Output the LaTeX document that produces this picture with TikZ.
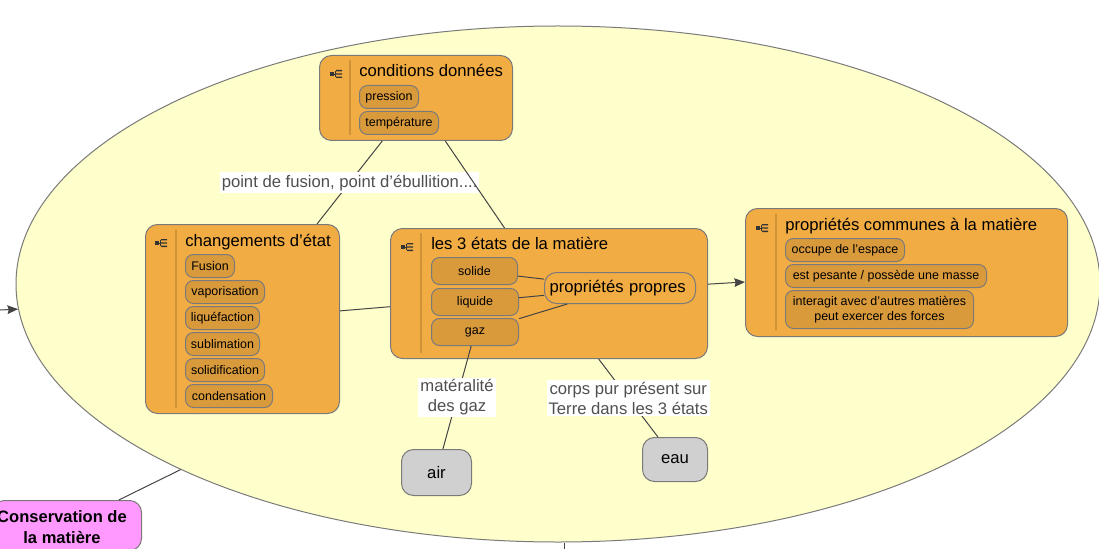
\documentclass[tikz,border=0pt]{standalone}
\usepackage{fontspec}
\setmainfont{Liberation Sans}
\usetikzlibrary{shapes.geometric,arrows.meta}
\definecolor{groupyellow}{HTML}{FFFFCC}
\definecolor{boxorange}{HTML}{F2AC44}
\definecolor{suborange}{HTML}{D99A3C}
\definecolor{rulebrown}{HTML}{CF9238}
\definecolor{edgegray}{HTML}{7A7A7A}
\definecolor{linegray}{HTML}{444444}
\definecolor{labelgray}{HTML}{505050}
\definecolor{leafgray}{HTML}{D0D0D0}
\definecolor{conceptpink}{HTML}{FF99FF}
\tikzset{box size/.style 2 args={minimum width=#1*0.75pt, minimum height=#2*0.75pt}}
\tikzstyle{arrow} = [linegray,line width=0.75pt,-{Stealth[length=8pt,width=6.5pt,inset=1pt]}]
\tikzstyle{link} = [linegray,line width=0.75pt]
\tikzstyle{mainbox} = [draw=edgegray, fill=boxorange, line width=0.75pt, rounded corners=9pt, inner sep=0pt, anchor=north west]
\tikzstyle{subbox} = [draw=edgegray, fill=suborange, line width=0.75pt, rounded corners=6pt, inner sep=0pt, anchor=north west, align=center, font=\fontsize{9.35}{11.3}\selectfont]
\tikzstyle{title} = [anchor=base west, inner sep=0pt, font=\fontsize{12.5}{15}\selectfont]
\tikzstyle{leaf} = [draw=edgegray, fill=leafgray, line width=0.75pt, rounded corners=9pt, inner sep=0pt, anchor=north west, font=\fontsize{12.5}{15}\selectfont]
\tikzstyle{linklabel} = [fill=white, text=labelgray, inner xsep=1.5pt, inner ysep=1pt, align=center, font=\fontsize{12.5}{15}\selectfont]
\tikzstyle{divider} = [rulebrown, line width=1.2pt]
\tikzset{treeicon/.pic={
    \fill[black!80] (-6,-2) rectangle (-2,2);
    \fill[black!80] (0,-4) rectangle (6,-2.6) (0,-0.7) rectangle (6,0.7) (0,2.6) rectangle (6,4);
    \draw[black!80, line width=0.4pt] (-2,0) -- (0,0) (-0.5,-3.3) -- (-0.5,3.3);
}}

\begin{document}
\begin{tikzpicture}[x=0.75pt,y=-0.75pt]
    \useasboundingbox (0,0) rectangle (1099,549);
    \clip (0,0) rectangle (1099,549);

    % big group
    \node (matter_group) [ellipse, draw=edgegray, fill=groupyellow, line width=0.75pt, inner sep=0pt, box size={1084}{516}, at={(558,284)}] {};
    \node (conservation) [mainbox, fill=conceptpink, box size={149}{50}, at={(-8,500)}] {};
    \node (conservation_title) [align=center, inner sep=0pt, at={(62,527)}, font=\bfseries\fontsize{12.4}{15.5}\selectfont] {Conservation de\\la matière};
    \coordinate (left_end) at (0,310);
    \coordinate (bottom_end) at (564,549);

    % main boxes
    \node (conditions) [mainbox, box size={193}{85}, at={(319,55)}] {};
    \node (changements) [mainbox, box size={194}{189}, at={(145,224)}] {};
    \node (etats) [mainbox, box size={317}{130}, at={(390,228)}] {};
    \node (communes) [mainbox, box size={322}{128}, at={(745,208)}] {};
    \node (air) [leaf, box size={70}{46}, at={(401,449)}] {air};
    \node (eau) [leaf, box size={65}{44}, at={(642,437)}] {eau};

    % titles
    \node (conditions_title) [title, at={(359,76.5)}] {conditions données};
    \node (changements_title) [title, at={(185,246)}] {changements d'état};
    \node (etats_title) [title, at={(431,249)}] {les 3 états de la matière};
    \node (communes_title) [title, at={(785,230.5)}] {propriétés communes à la matière};

    % dividers and icons
    \draw[divider] (350,60) -- (350,135);
    \draw[divider] (176,230) -- (176,408);
    \draw[divider] (421,233) -- (421,353);
    \draw[divider] (776,214) -- (776,330);
    \pic at (336,74) {treeicon};
    \pic at (161,243) {treeicon};
    \pic at (407,247) {treeicon};
    \pic at (762,228) {treeicon};

    % sub boxes
    \node (pression) [subbox, box size={59}{23}, at={(359,85)}] {pression};
    \node (temperature) [subbox, box size={79}{23}, at={(359,111)}] {température};

    \node (fusion) [subbox, box size={49}{23}, at={(185,254)}] {Fusion};
    \node (vaporisation) [subbox, box size={79}{23}, at={(185,280)}] {vaporisation};
    \node (liquefaction) [subbox, box size={74}{23}, at={(185,306)}] {liquéfaction};
    \node (sublimation) [subbox, box size={74}{23}, at={(185,332)}] {sublimation};
    \node (solidification) [subbox, box size={79}{23}, at={(185,358)}] {solidification};
    \node (condensation) [subbox, box size={87}{23}, at={(185,384)}] {condensation};

    \node (solide) [subbox, box size={86}{27}, at={(431,257)}] {solide};
    \node (liquide) [subbox, box size={87}{27}, at={(431,288)}] {liquide};
    \node (gaz) [subbox, box size={87}{27}, at={(431,318)}] {gaz};
    \node (propres) [draw=edgegray, fill=boxorange, line width=0.75pt, rounded corners=9pt, inner sep=0pt, anchor=north west, box size={151}{31}, at={(544,272)}, text width=141*0.75pt, align=left, font=\fontsize{12.5}{15}\selectfont] {propriétés propres};

    \node (occupe) [subbox, box size={119}{23}, at={(785,238)}] {occupe de l'espace};
    \node (pesante) [subbox, box size={201}{23}, at={(785,264)}] {est pesante / possède une masse};
    \node (interagit) [subbox, box size={188}{38}, at={(785,290)}] {interagit avec d'autres matières\\peut exercer des forces};

    % connectors
    \draw[link] (conditions) -- node[linklabel, text height=11pt, text depth=3pt] {point de fusion, point d'ébullition....} (changements);
    \draw[link] (conditions) -- (etats);
    \draw[link] (changements) -- (etats);
    \draw[arrow] (etats) -- (communes);
    \draw[link] (gaz) -- node[linklabel] {matéralité\\des gaz} (air);
    \draw[link] (etats) -- node[linklabel] {corps pur présent sur\\Terre dans les 3 états} (eau);
    \draw[link] (solide) -- (propres);
    \draw[link] (liquide) -- (propres);
    \draw[link] (gaz) -- (propres);
    \draw[link] (conservation) -- (matter_group);
    \draw[arrow] (left_end) -- (matter_group);
    \draw[link] (bottom_end) -- (bottom_end |- matter_group.south);
\end{tikzpicture}
\end{document}
